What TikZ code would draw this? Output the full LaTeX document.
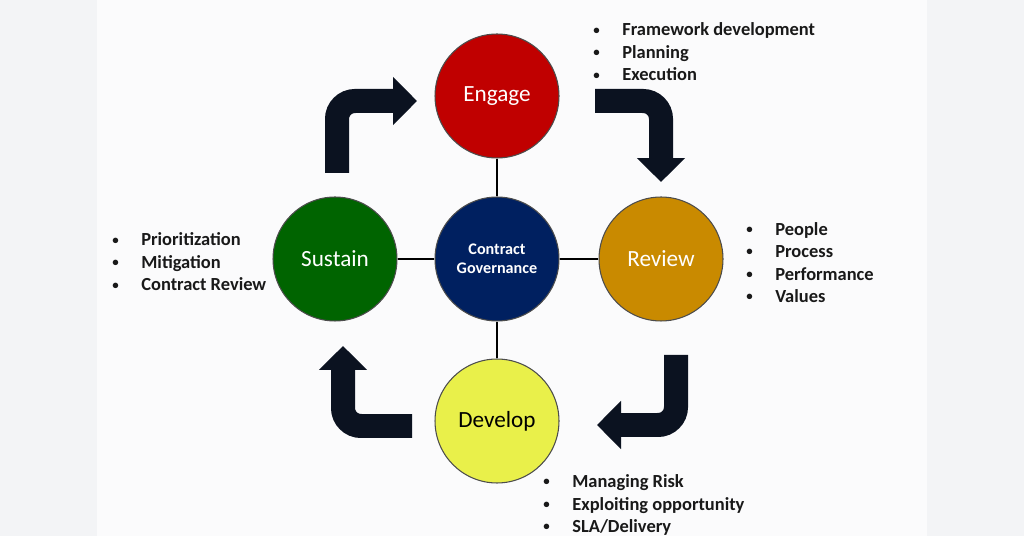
\documentclass[tikz,border=0pt]{standalone}
\usepackage{fontspec}
\setmainfont{Carlito}
\usetikzlibrary{arrows.meta}

\definecolor{engred}{HTML}{C00000}
\definecolor{revgold}{HTML}{C98A00}
\definecolor{susgreen}{HTML}{006400}
\definecolor{devyellow}{HTML}{E9F04A}
\definecolor{govblue}{HTML}{002060}
\definecolor{arrowink}{HTML}{0B1220}
\definecolor{pagegray}{HTML}{F3F4F6}
\definecolor{slidewhite}{HTML}{FBFBFC}

\tikzset{
  phase/.style={circle, draw=black!70, line width=0.6pt, minimum size=2.48cm,
    inner sep=0pt, text=white, font=\fontsize{13.2}{15}\selectfont},
  link/.style={line width=1.3pt, black},
  turn/.style={draw=arrowink, line width=0.48cm, rounded corners=0.36cm,
    -{Triangle[length=0.48cm,width=0.94cm]}},
  points/.style={align=left, anchor=west, inner sep=0pt, text=black!90,
    font=\bfseries\fontsize{10.5}{12.8}\selectfont}
}
\newcommand{\pt}[1]{\makebox[0.58cm][l]{\raisebox{0.1em}{\scalebox{0.7}{\textbullet}}}#1}

\begin{document}
\begin{tikzpicture}[x=0.02cm,y=-0.02cm]
    % page and slide
    \fill[pagegray] (0,0) rectangle (1024,536);
    \fill[slidewhite] (97,0) rectangle (927,536);
    \useasboundingbox (0,0) rectangle (1024,536);

    % the five circles
    \node[phase, fill=govblue, font=\bfseries\fontsize{9.2}{11}\selectfont, align=center] (cg) at (497,259) {Contract\\Governance};
    \node[phase, fill=engred] (engage) at (497,96) {Engage};
    \node[phase, fill=revgold] (review) at (661,259) {Review};
    \node[phase, fill=susgreen] (sustain) at (335,259) {Sustain};
    \node[phase, fill=devyellow, text=black] (develop) at (497,421) {Develop};

    \draw[link] (engage) -- (cg);
    \draw[link] (review) -- (cg);
    \draw[link] (develop) -- (cg);
    \draw[link] (sustain) -- (cg);

    % bent arrows round the cycle
    \coordinate (sus-out) at (337,173);
    \coordinate (eng-in) at (417,101);
    \coordinate (eng-out) at (595,101);
    \coordinate (rev-in) at (661,182);
    \coordinate (rev-out) at (676,355);
    \coordinate (dev-in) at (597,425);
    \coordinate (dev-out) at (412,426);
    \coordinate (sus-in) at (343,346);

    \draw[turn] (sus-out) |- (eng-in);
    \draw[turn] (eng-out) -| (rev-in);
    \draw[turn] (rev-out) |- (dev-in);
    \draw[turn] (dev-out) -| (sus-in);

    % bullet lists
    \node[points] (engage-list) at (593,52) {\pt{Framework development}\\\pt{Planning}\\\pt{Execution}};
    \node[points] (review-list) at (746,262.5) {\pt{People}\\\pt{Process}\\\pt{Performance}\\\pt{Values}};
    \node[points] (sustain-list) at (112,262) {\pt{Prioritization}\\\pt{Mitigation}\\\pt{Contract Review}};
    \node[points] (develop-list) at (543,505) {\pt{Managing Risk}\\\pt{Exploiting opportunity}\\\pt{SLA/Delivery}};

\end{tikzpicture}
\end{document}
